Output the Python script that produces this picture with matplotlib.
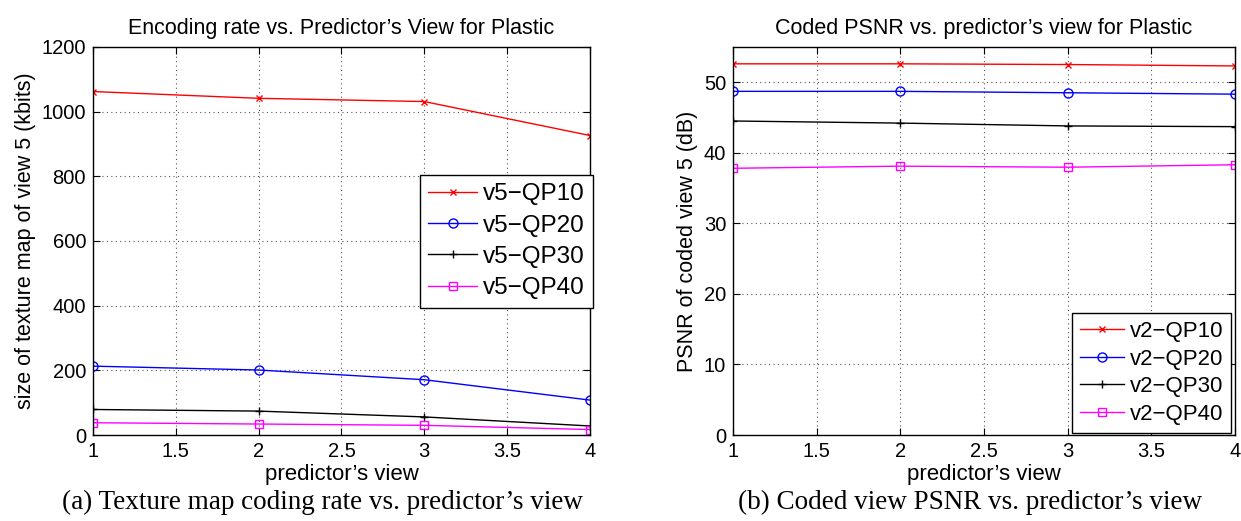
import matplotlib
matplotlib.use("Agg")
import matplotlib.pyplot as plt

views = [1, 2, 3, 4]

rate_qp10 = [1062, 1041, 1031, 926]
rate_qp20 = [213, 201, 171, 108]
rate_qp30 = [79, 74, 56, 28]
rate_qp40 = [38, 34, 30, 17]

psnr_qp10 = [52.6, 52.6, 52.5, 52.3]
psnr_qp20 = [48.7, 48.7, 48.5, 48.3]
psnr_qp30 = [44.5, 44.2, 43.8, 43.7]
psnr_qp40 = [37.8, 38.1, 37.95, 38.3]

styles = [("#ff0000", "x", 5), ("#0000ff", "o", 6.5), ("#000000", "+", 6), ("#ff00ff", "s", 5.5)]

plt.rcParams["font.family"] = ["Liberation Sans", "DejaVu Sans"]
plt.rcParams["font.size"] = 14

fig = plt.figure(figsize=(12.41, 5.21), dpi=100)
ax1 = fig.add_axes([0.0749, 0.165, 0.4005, 0.745])
ax2 = fig.add_axes([0.5907, 0.165, 0.4045, 0.745])


def draw(ax, series, labels, ylim, yticks, title, ylabel, anchor, legsize, spacing):
    for (c, m, ms), ys, lab in zip(styles, series, labels):
        ax.plot(views, ys, color=c, marker=m, markersize=ms,
                markerfacecolor="none", markeredgecolor=c, markeredgewidth=1.0,
                linewidth=1.0, label=lab)
    ax.set_xlim(1, 4)
    ax.set_ylim(*ylim)
    ax.set_xticks([1, 1.5, 2, 2.5, 3, 3.5, 4])
    ax.set_xticklabels(["1", "1.5", "2", "2.5", "3", "3.5", "4"])
    ax.set_yticks(yticks)
    ax.grid(True, linestyle=(0, (1, 3)), color="#555555", linewidth=0.8)
    ax.tick_params(direction="in", top=True, right=True, length=5,
                   labelsize=14.5, pad=5)
    for s in ax.spines.values():
        s.set_linewidth(1.0)
    ax.set_title(title, fontsize=15.5, pad=9)
    ax.set_xlabel("predictor\u2019s view", fontsize=16, labelpad=2)
    ax.set_ylabel(ylabel, fontsize=15.5, labelpad=4)
    leg = ax.legend(loc="upper left", bbox_to_anchor=anchor, borderaxespad=0,
                    fontsize=legsize, frameon=True, fancybox=False,
                    edgecolor="black", framealpha=1, handlelength=2.0,
                    borderpad=0.35, labelspacing=spacing, handletextpad=0.25)
    leg.get_frame().set_linewidth(1.0)


draw(ax1, [rate_qp10, rate_qp20, rate_qp30, rate_qp40],
     ["v5\u2212QP10", "v5\u2212QP20", "v5\u2212QP30", "v5\u2212QP40"],
     (0, 1200), range(0, 1201, 200),
     "Encoding rate vs. Predictor\u2019s View for Plastic",
     "size of texture map of view 5 (kbits)", (0.658, 0.670), 17.5, 0.38)

draw(ax2, [psnr_qp10, psnr_qp20, psnr_qp30, psnr_qp40],
     ["v2\u2212QP10", "v2\u2212QP20", "v2\u2212QP30", "v2\u2212QP40"],
     (0, 55), range(0, 51, 10),
     "Coded PSNR vs. predictor\u2019s view for Plastic",
     "PSNR of coded view 5 (dB)", (0.675, 0.314), 16, 0.3)

fig.text(0.26, 0.035, "(a) Texture map coding rate vs. predictor\u2019s view",
         ha="center", va="center", fontsize=19.5,
         family=["Liberation Serif", "DejaVu Serif"])
fig.text(0.782, 0.035, "(b) Coded view PSNR vs. predictor\u2019s view",
         ha="center", va="center", fontsize=19.5,
         family=["Liberation Serif", "DejaVu Serif"])

fig.savefig("out.png", dpi=100)
